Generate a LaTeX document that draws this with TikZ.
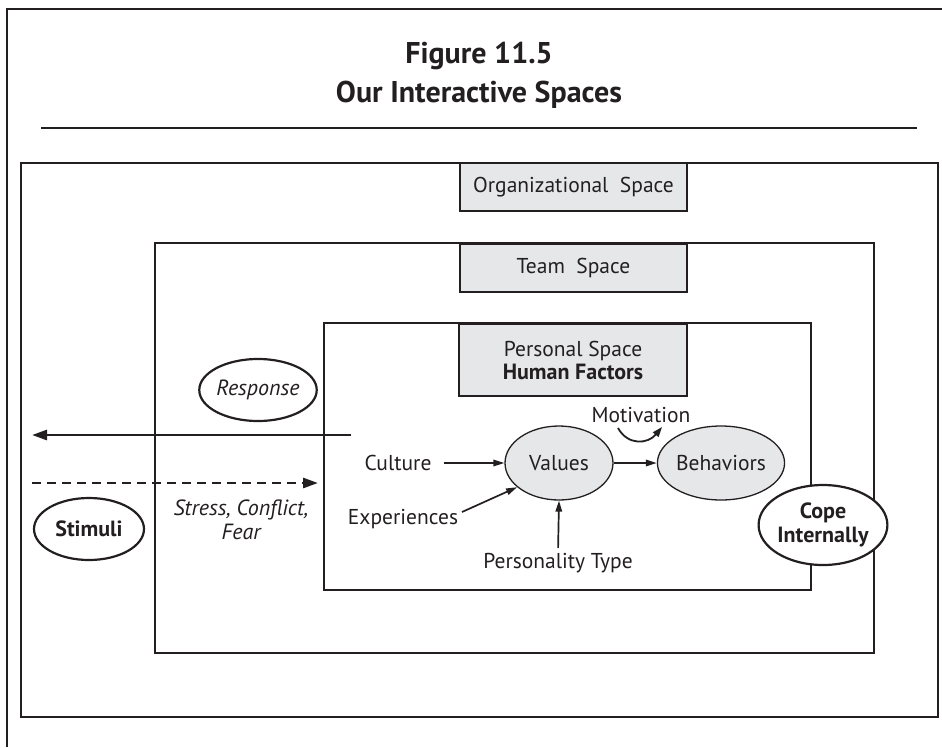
\documentclass[tikz,border=0pt]{standalone}
\usepackage{fontspec}
\setmainfont{PT Sans}
\usetikzlibrary{arrows.meta,shapes.geometric}
\definecolor{ink}{HTML}{231F20}
\definecolor{fillg}{HTML}{E6E7E8}
\newcommand{\bodyfont}{\fontsize{21.5}{23}\selectfont}
\newcommand{\accfont}{\fontsize{22}{24}\selectfont}
\tikzset{
  txt/.style={font=\bodyfont, text=ink, inner sep=0pt},
  frame/.style={draw=ink, line width=2.4pt, inner sep=0pt},
  graybox/.style={draw=ink, line width=1.3pt, fill=fillg, inner sep=0pt, align=center,
     font=\bodyfont, text=ink},
  grayell/.style={ellipse, draw=ink, line width=1.3pt, fill=fillg, inner sep=0pt,
     minimum width=108pt, minimum height=74pt, font=\bodyfont, text=ink},
  whiteell/.style={ellipse, draw=ink, line width=2.2pt, fill=white, inner sep=0pt,
     text=ink, align=center},
  arr/.style={draw=ink, line width=1.7pt, -{Triangle[length=11pt,width=6.5pt]}},
  bigarr/.style={draw=ink, line width=2.7pt, -{Triangle[length=15pt,width=10pt]}},
}
\begin{document}
\begin{tikzpicture}[x=1pt,y=-1pt]
\useasboundingbox (0,0) rectangle (942,747);
% page border
\coordinate (pb1) at (942,9);
\coordinate (pb2) at (7,9);
\coordinate (pb3) at (7,747);
\draw[ink, line width=1.4pt] (pb1) -- (pb2) -- (pb3);
% title
\node[anchor=base, font=\bfseries\fontsize{30}{33}\selectfont, text=ink] (t1) at (479,63) {Figure 11.5};
\node[anchor=base, font=\bfseries\fontsize{30}{33}\selectfont, text=ink] (t2) at (479,102) {Our Interactive Spaces};
\coordinate (r1) at (41,128);
\coordinate (r2) at (917,128);
\draw[ink, line width=1.4pt] (r1) -- (r2);
% frames
\node[frame, minimum width=917pt, minimum height=554pt] (outer) at (479.5,440) {};
\node[frame, minimum width=719pt, minimum height=410pt] (middle) at (514.5,448) {};
\node[frame, minimum width=487pt, minimum height=267pt] (inner) at (567.5,456.5) {};
% gray title boxes
\node[graybox, minimum width=227pt, minimum height=48pt] (org) at (573.5,187) {Organizational\ \ Space};
\node[graybox, minimum width=227pt, minimum height=48pt] (team) at (573.5,268) {Team\ \ Space};
\node[graybox, minimum width=228pt, minimum height=72pt] (pers) at (573,360) {Personal Space\\{\accfont\bfseries Human Factors}};
% personal space contents
\node[grayell] (values) at (559,463) {Values};
\node[grayell] (behav) at (721,463) {Behaviors};
\node[txt] (culture) at (398,463) {Culture};
\node[txt] (exper) at (403,519) {Experiences};
\node[txt] (ptype) at (558,563) {Personality Type};
\node[txt] (motiv) at (641,415) {Motivation};
\draw[arr] ([xshift=12pt]culture.east) -- (values.west);
\coordinate (e1) at (462,512);
\draw[arr] (e1) -- (values.210);
\draw[arr, shorten <=5pt] (ptype.north) -- (values.south);
\draw[arr] (values.east) -- (behav.west);
\coordinate (m1) at (618,428);
\coordinate (m2) at (662,427);
\draw[ink, line width=1.8pt, -{Triangle[length=10pt,width=7pt]}] (m1) .. controls (628,446) and (648,444) .. (m2);
% response / stimuli
\coordinate (rs) at (351,435);
\coordinate (re) at (32,435);
\draw[bigarr] (rs) -- (re);
\coordinate (ds) at (32,483);
\coordinate (de) at (318,483);
\draw[bigarr, dash pattern=on 9pt off 6pt] (ds) -- (de);
\node[whiteell, minimum width=110pt, minimum height=62pt, font=\itshape\accfont] (resp) at (258,390) {Response};
\node[whiteell, minimum width=110pt, minimum height=62pt, font=\bfseries\accfont] (stim) at (89,529) {Stimuli};
\node[txt, align=center, font=\itshape\accfont] (stress) at (241,520) {Stress, Conflict,\\Fear};
\node[whiteell, minimum width=120pt, minimum height=80pt, font=\bfseries\accfont] (cope) at (823,525) {Cope\\Internally};
\end{tikzpicture}
\end{document}
